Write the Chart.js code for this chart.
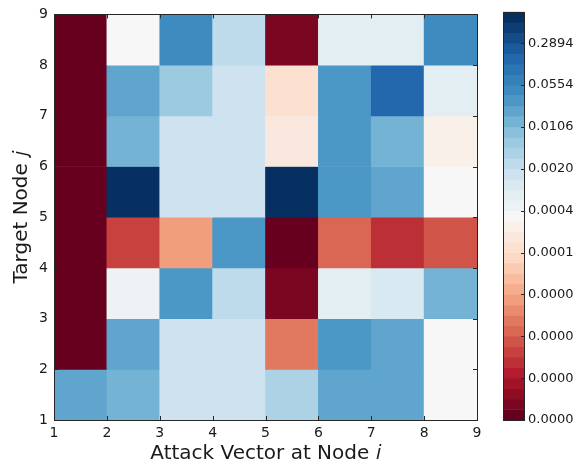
<!DOCTYPE html>
<html>
<head>
<meta charset="utf-8">
<script src="https://cdn.jsdelivr.net/npm/chart.js@4.4.1/dist/chart.umd.min.js"></script>
<style>
  body { margin: 0; background: #fff; }
  #wrap { position: relative; width: 577px; height: 467px; }
  #heat { position: absolute; left: 0; top: 0; }
  #bar { position: absolute; left: 495px; top: 0; }
</style>
</head>
<body>
<div id="wrap">
  <canvas id="heat" width="500" height="467"></canvas>
  <canvas id="bar" width="82" height="467"></canvas>
</div>
<script>
// cell edges (attack vector at node i, target node j)
const xEdges = [1, 2, 3, 4, 5, 6, 7, 8, 9];
const yEdges = [1, 2, 3, 4, 5, 6, 7, 8, 9];

// values per target row j (bottom -> top), columns i = 1..8
const row1 = [0.020, 0.013, 1.7e-3, 1.7e-3, 3.8e-3, 0.020, 0.020, 3.2e-4];
const row2 = [1.2e-7, 0.020, 1.7e-3, 1.7e-3, 5.1e-6, 0.030, 0.020, 3.2e-4];
const row3 = [1.2e-7, 4.8e-4, 0.030, 2.5e-3, 1.9e-7, 7.2e-4, 1.1e-3, 0.013];
const row4 = [1.2e-7, 1.5e-6, 1.2e-5, 0.030, 1.2e-7, 3.4e-6, 9.7e-7, 2.2e-6];
const row5 = [1.2e-7, 0.81, 1.7e-3, 1.7e-3, 0.81, 0.030, 0.020, 3.2e-4];
const row6 = [1.2e-7, 0.013, 1.7e-3, 1.7e-3, 1.4e-4, 0.030, 0.013, 2.1e-4];
const row7 = [1.2e-7, 0.020, 5.7e-3, 1.7e-3, 9.2e-5, 0.030, 0.16, 7.2e-4];
const row8 = [1.2e-7, 3.2e-4, 0.045, 2.5e-3, 1.9e-7, 7.2e-4, 7.2e-4, 0.045];

// colorbar: 40 log-spaced levels from 1e-7 to 1, labels on every 4th level
const levelMin = -7, levelMax = 0, levelCount = 40;
const cbTickLabels = ['0.0000', '0.0000', '0.0000', '0.0000', '0.0001',
                      '0.0004', '0.0020', '0.0106', '0.0554', '0.2894'];

const rows = [row1, row2, row3, row4, row5, row6, row7, row8];
const levels = [];
for (let k = 0; k < levelCount; k++) {
  levels.push(Math.pow(10, levelMin + k * (levelMax - levelMin) / (levelCount - 1)));
}
const cbTickVals = levels.filter((v, k) => k % 4 === 0);

// RdBu colormap
const rdbu = ['#67001f', '#b2182b', '#d6604d', '#f4a582', '#fddbc7', '#f7f7f7',
              '#d1e5f0', '#92c5de', '#4393c3', '#2166ac', '#053061'];
function hex(h) {
  return [parseInt(h.slice(1, 3), 16), parseInt(h.slice(3, 5), 16), parseInt(h.slice(5, 7), 16)];
}
function cmap(t) {
  t = Math.max(0, Math.min(1, t));
  const p = t * (rdbu.length - 1);
  const k = Math.min(Math.floor(p), rdbu.length - 2);
  const f = p - k;
  const a = hex(rdbu[k]), b = hex(rdbu[k + 1]);
  const c = a.map((v, n) => Math.round(v + (b[n] - v) * f));
  return 'rgb(' + c.join(',') + ')';
}
const nBands = levelCount - 1;
function bandOf(v) {
  let k = 0;
  while (k < nBands - 1 && v >= levels[k + 1]) k++;
  return k;
}
function colorOf(v) {
  return cmap(bandOf(v) / (nBands - 1));
}

const cells = [];
rows.forEach((r, j) => {
  r.forEach((v, i) => {
    cells.push({ x: (xEdges[i] + xEdges[i + 1]) / 2, y: [yEdges[j], yEdges[j + 1]], v: v });
  });
});

const bands = [];
for (let k = 0; k < nBands; k++) {
  bands.push({ x: 0.5, y: [levels[k], levels[k + 1]], k: k });
}

Chart.defaults.font.family = "'DejaVu Sans', sans-serif";
Chart.defaults.color = '#1a1a1a';

// box round the plot and matplotlib-style inward ticks
function framePlugin(tickLen, sides) {
  return {
    id: 'frame',
    afterDatasetsDraw(chart) {
      const a = chart.chartArea;
      const ctx = chart.ctx;
      ctx.save();
      ctx.strokeStyle = '#262626';
      ctx.lineWidth = 1;
      ctx.beginPath();
      if (sides.x) {
        chart.scales.x.ticks.forEach(t => {
          const px = Math.round(chart.scales.x.getPixelForValue(t.value)) + 0.5;
          ctx.moveTo(px, a.bottom); ctx.lineTo(px, a.bottom - tickLen);
          ctx.moveTo(px, a.top); ctx.lineTo(px, a.top + tickLen);
        });
      }
      if (sides.y) {
        chart.scales.y.ticks.forEach(t => {
          const py = Math.round(chart.scales.y.getPixelForValue(t.value)) + 0.5;
          if (sides.left) { ctx.moveTo(a.left, py); ctx.lineTo(a.left + tickLen, py); }
          ctx.moveTo(a.right, py); ctx.lineTo(a.right - tickLen, py);
        });
      }
      ctx.stroke();
      ctx.strokeRect(Math.round(a.left) + 0.5, Math.round(a.top) + 0.5,
                     Math.round(a.right - a.left), Math.round(a.bottom - a.top));
      ctx.restore();
    }
  };
}

new Chart(document.getElementById('heat'), {
  type: 'bar',
  data: {
    datasets: [{
      data: cells,
      backgroundColor: c => colorOf(c.raw ? c.raw.v : 1),
      borderWidth: 0,
      barPercentage: 1,
      categoryPercentage: 1
    }]
  },
  options: {
    responsive: false,
    animation: false,
    devicePixelRatio: 1,
    layout: { padding: { top: 10, right: 23, left: 0, bottom: 0 } },
    plugins: { legend: { display: false }, tooltip: { enabled: false } },
    scales: {
      x: {
        type: 'linear', min: 1, max: 9, offset: false,
        grid: { display: false, offset: false, drawTicks: false },
        border: { display: false },
        ticks: { stepSize: 1, autoSkip: false, maxRotation: 0, padding: 5, font: { size: 14 } },
        title: { display: true, text: 'Attack Vector at Node 𝑖', font: { size: 20 }, padding: { top: 0, bottom: 1 } },
        afterFit: s => { s.height = 47; }
      },
      y: {
        type: 'linear', min: 1, max: 9,
        grid: { display: false, drawTicks: false },
        border: { display: false },
        ticks: { stepSize: 1, autoSkip: false, padding: 6, font: { size: 14 } },
        title: { display: true, text: 'Target Node 𝑗', font: { size: 20 }, padding: { top: 10, bottom: 0 } },
        afterFit: s => { s.width = 54; }
      }
    }
  },
  plugins: [framePlugin(4, { x: true, y: true, left: true })]
});

new Chart(document.getElementById('bar'), {
  type: 'bar',
  data: {
    datasets: [{
      data: bands,
      backgroundColor: c => cmap((c.raw ? c.raw.k : 0) / (nBands - 1)),
      borderWidth: 0,
      barPercentage: 1,
      categoryPercentage: 1
    }]
  },
  options: {
    responsive: false,
    animation: false,
    devicePixelRatio: 1,
    layout: { padding: { top: 10, right: 0, left: 8, bottom: 47 } },
    plugins: { legend: { display: false }, tooltip: { enabled: false } },
    scales: {
      x: { type: 'linear', min: 0, max: 1, offset: false, display: false },
      y: {
        type: 'logarithmic', position: 'right', min: levels[0], max: levels[levels.length - 1],
        grid: { display: false, drawTicks: false },
        border: { display: false },
        afterBuildTicks: s => { s.ticks = cbTickVals.map(v => ({ value: v })); },
        ticks: { autoSkip: false, padding: 4, font: { size: 13 }, callback: (v, i) => cbTickLabels[i] },
        afterFit: s => { s.width = 53; }
      }
    }
  },
  plugins: [framePlugin(3, { y: true, left: false })]
});
</script>
</body>
</html>
